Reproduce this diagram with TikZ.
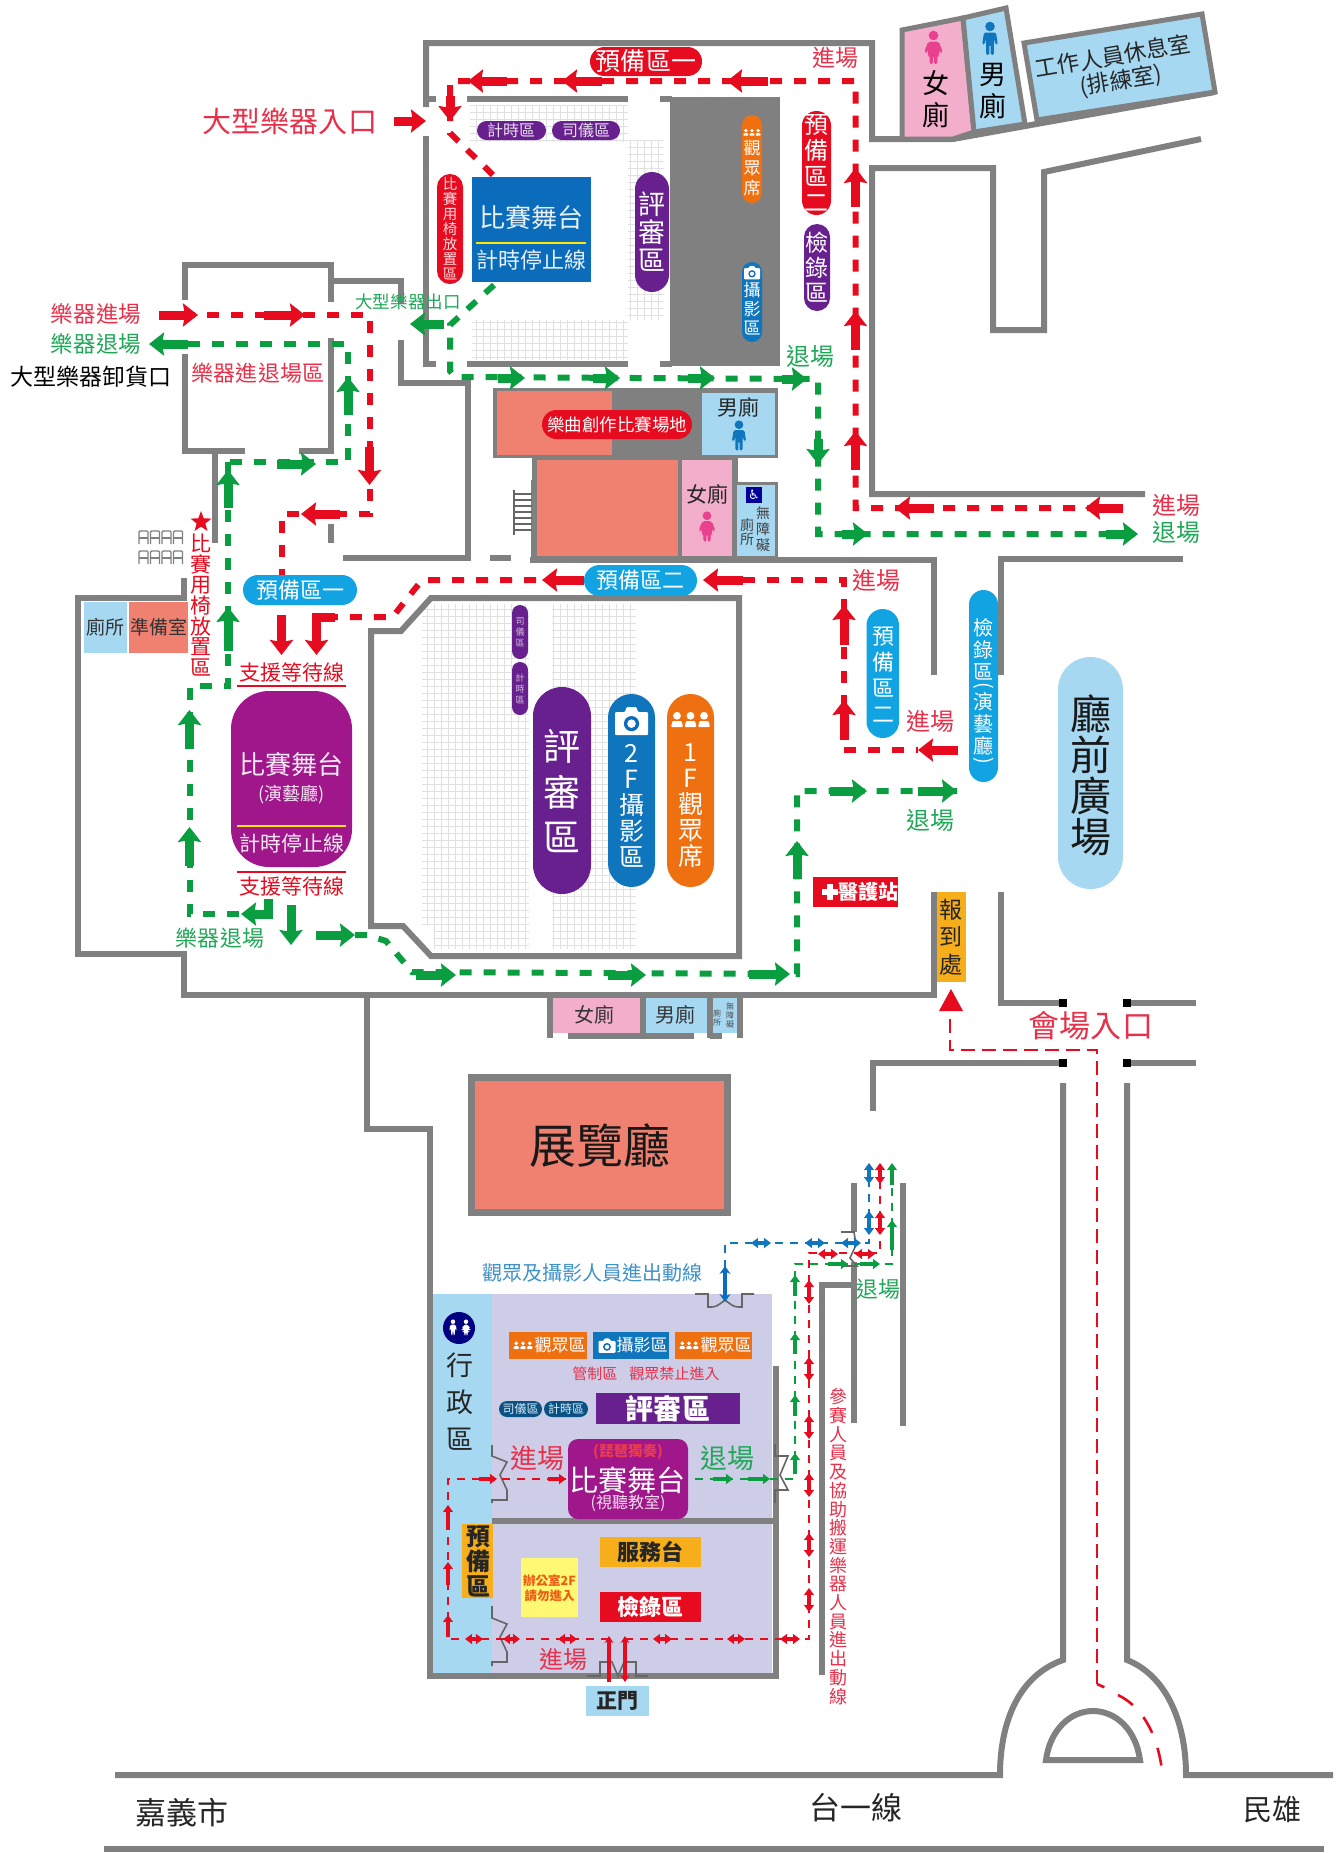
\documentclass[tikz,border=0pt]{standalone}
\usepackage{fontspec}
\setmainfont{Noto Sans CJK TC}
\newfontfamily\symf{DejaVu Sans}
\usetikzlibrary{arrows.meta,shapes.geometric}
\definecolor{wall}{HTML}{808080}
\definecolor{rd}{HTML}{E60B1E}
\definecolor{gn}{HTML}{0A9E40}
\definecolor{gt}{HTML}{20A858}
\definecolor{rt}{HTML}{E8304A}
\definecolor{bl}{HTML}{0A6CBA}
\definecolor{pu}{HTML}{67208E}
\definecolor{mg}{HTML}{A0178B}
\definecolor{og}{HTML}{EE7010}
\definecolor{cy}{HTML}{12A4E2}
\definecolor{lb}{HTML}{A6D8F2}
\definecolor{lv}{HTML}{CDCDE8}
\definecolor{pk}{HTML}{F3AECB}
\definecolor{sm}{HTML}{F08070}
\definecolor{am}{HTML}{F6AE1A}
\definecolor{hb}{HTML}{0F75BC}
\definecolor{hp}{HTML}{E9408F}
\newcounter{nn}
% text: x y size colour spacing text
\newcommand{\tx}[6]{\stepcounter{nn}\node[inner sep=0pt,text=#4,font=\fontsize{#3}{#3}\selectfont\addfontfeature{LetterSpace=#5}] (n\thenn) at (#1,#2) {#6};}
% vertical text: x y size linestep colour text
\newcommand{\vt}[6]{\stepcounter{nn}\node[inner sep=0pt,align=center,text=#5,font=\fontsize{#3}{#4}\selectfont] (n\thenn) at (#1,#2) {#6};}
% filled box
\newcommand{\bx}[5]{\fill[#5] (#1,#2) rectangle (#3,#4);}
\newcommand{\pill}[5]{\pgfmathsetmacro{\rr}{min(abs(#3-#1),abs(#4-#2))/2-0.01}\fill[#5,rounded corners=\rr pt] (#1,#2) rectangle (#3,#4);}
\newcommand{\rbx}[6]{\fill[#5,rounded corners=#6 pt] (#1,#2) rectangle (#3,#4);}
% block arrows
\newcommand{\arr}[5]{\draw[#1,line width=9pt,-{Stealth[length=15pt,width=23pt,inset=2pt]}] (#2,#3) -- (#4,#5);}
\newcommand{\sar}[5]{\draw[#1,line width=3.6pt,{Stealth[length=7pt,width=10pt,inset=0.5pt]}-{Stealth[length=7pt,width=10pt,inset=0.5pt]}] (#2,#3) -- (#4,#5);}
\newcommand{\uar}[5]{\draw[#1,line width=3.6pt,-{Stealth[length=7pt,width=10pt,inset=0.5pt]}] (#2,#3) -- (#4,#5);}
% pictograms
\newcommand{\man}[4]{\begin{scope}[shift={(#1,#2)},scale=#3]\fill[#4] (0,-9) circle (3.2);\fill[#4,rounded corners=1.5pt] (-4,-5) -- (4,-5) -- (5.2,3) -- (3.6,3) -- (2.6,-1) -- (2.6,10) -- (0.4,10) -- (0.4,3) -- (-0.4,3) -- (-0.4,10) -- (-2.6,10) -- (-2.6,-1) -- (-3.6,3) -- (-5.2,3) -- cycle;\end{scope}}
\newcommand{\wom}[4]{\begin{scope}[shift={(#1,#2)},scale=#3]\fill[#4] (0,-9) circle (3.2);\fill[#4,rounded corners=2pt] (-3.5,-5) -- (3.5,-5) -- (6.2,2) -- (4.6,3) -- (3.4,0) -- (4,4.5) -- (2.6,4.5) -- (2.6,10) -- (0.4,10) -- (0.4,4.5) -- (-0.4,4.5) -- (-0.4,10) -- (-2.6,10) -- (-2.6,4.5) -- (-4,4.5) -- (-3.4,0) -- (-4.6,3) -- (-6.2,2) -- cycle;\end{scope}}
\newcommand{\cam}[3]{\begin{scope}[shift={(#1,#2)},scale=#3]\fill[white,rounded corners=1pt] (-10,-6) -- (-4,-6) -- (-3,-9) -- (3,-9) -- (4,-6) -- (10,-6) -- (10,8) -- (-10,8) -- cycle;\fill[bl] (0,1) circle (4.6);\fill[white] (0,1) circle (2.6);\end{scope}}
\newcommand{\aud}[3]{\begin{scope}[shift={(#1,#2)},scale=#3]\foreach \q in {-9,0,9}{\fill[white] (\q,-3.5) circle (2.6);\fill[white,rounded corners=1pt] (\q-4,4) -- (\q-3,0) -- (\q+3,0) -- (\q+4,4) -- cycle;}\end{scope}}
\tikzset{
 wl/.style={draw=wall,line width=6pt,line cap=butt,line join=miter},
 door/.style={draw=wall!80!black,line width=1.6pt},
 rdash/.style={draw=rd,line width=6pt,dash pattern=on 12pt off 12pt},
 gdash/.style={draw=gn,line width=6pt,dash pattern=on 12pt off 12pt},
 rthin/.style={draw=rd,line width=2.6pt,dash pattern=on 8pt off 7pt},
 rlong/.style={draw=rd,line width=2.6pt,dash pattern=on 14pt off 7pt},
 rcurve/.style={draw=rd,line width=2.6pt,dash pattern=on 18pt off 16pt},
 gthin/.style={draw=gn,line width=2.6pt,dash pattern=on 8pt off 7pt},
 bthin/.style={draw=hb,line width=2.6pt,dash pattern=on 8pt off 7pt},
 seat/.style={draw=black!12,line width=1pt,step=7pt},
}
\begin{document}
\begin{tikzpicture}[x=1pt,y=-1pt]
\useasboundingbox (0,0) rectangle (1338,1853);
\fill[white] (0,0) rectangle (1338,1853);
%%% seats
\draw[seat] (470,105) grid (628,142);
\draw[seat] (472,320) grid (628,360);
\draw[seat] (628,140) grid (664,320);
\draw[seat] (422,604) grid (529,925);
\draw[seat] (434,925) grid (529,949);
\draw[seat] (552,604) grid (636,949);
%%% top hall walls
\draw[wl] (426,107) -- (426,43) -- (872,43) -- (872,139) -- (953,139) -- (1215,92);
\draw[wl] (426,99) -- (436,99);
\draw[wl] (426,136) -- (426,364) -- (436,364);
\draw[wl] (467,99) -- (628,99);
\draw[wl] (660,99) -- (672,99);
\draw[wl] (467,364) -- (628,364);
\draw[wl] (660,364) -- (672,364);
\bx{670}{97}{780}{366}{wall}
%%% restrooms top right
\fill[pk,draw=wall,line width=5pt] (902,30) -- (963,18) -- (974,132) -- (953,139) -- (902,139) -- cycle;
\fill[lb,draw=wall,line width=5pt] (963,18) -- (1006,8) -- (1025,124) -- (974,132) -- cycle;
\fill[lb,draw=wall,line width=5pt] (1024,43) -- (1202,14) -- (1215,92) -- (1037,120) -- cycle;
\draw[wl] (1201,139) -- (1044,172) -- (1044,330) -- (993,330) -- (993,168) -- (872,168) -- (872,494) -- (1145,494);
%%% middle block
\bx{612}{388}{778}{458}{wall}
\bx{493}{388}{612}{458}{wall}
\bx{497}{391}{612}{455}{sm}
\bx{702}{393}{775}{455}{lb}
\draw[wl] (534,480) -- (534,558);
\bx{532}{458}{738}{560}{wall}
\bx{537}{460}{678}{556}{sm}
\bx{682}{460}{732}{556}{pk}
\bx{732}{482}{778}{560}{wall}
\bx{737}{485}{775}{556}{lb}
\bx{738}{458}{778}{482}{white}
\draw[wl] (530,560) -- (933.5,560) -- (933.5,675);
\draw[wl] (490,558) -- (511,558);
\draw[wl] (1183,559) -- (1001,559) -- (1001,675);
% stairs
\draw[door] (514,490) -- (514,535);
\foreach \q in {494,500,...,534}{\draw[door] (514,\q) -- (532,\q);}
%%% left building
\draw[wl] (185,300) -- (185,265) -- (331,265) -- (331,302);
\draw[wl] (185,354) -- (185,451) -- (245,451);
\draw[wl] (299,451) -- (331,451) -- (331,338);
\draw[wl] (331,281) -- (401,281) -- (401,304);
\draw[wl] (401,340) -- (401,383) -- (468,383) -- (468,558) -- (343,558);
\draw[wl] (331,524) -- (331,543);
\draw[wl] (215,451) -- (215,543);
\draw[wl] (183.5,578) -- (183.5,598) -- (78,598) -- (78,954) -- (183.5,954) -- (183.5,995) -- (933.5,995) -- (933.5,892);
\draw[wl] (367,995) -- (367,1129) -- (430,1129) -- (430,1294);
%%% concert hall
\draw[wl] (371,926) -- (371,631) -- (401,631) -- (431,598) -- (739,598) -- (739,956) -- (431,956) -- (403,926) -- cycle;
%%% lower restrooms
\bx{553}{998}{640}{1033}{pk}
\bx{645}{998}{707}{1033}{lb}
\bx{712}{998}{737}{1033}{lb}
\draw[wl] (550,995) -- (550,1038);
\draw[wl] (642.5,995) -- (642.5,1036);
\draw[wl] (710,995) -- (710,1038);
\draw[wl] (740,995) -- (740,1038);
\draw[wl] (568,1036) -- (694,1036);
\draw[wl] (710,1036) -- (722,1036);
%%% exhibition hall
\fill[sm,draw=wall,line width=7pt] (471,1077) rectangle (727,1212);
%%% plaza
\draw[wl] (1001,892) -- (1001,1003) -- (1063,1003);
\draw[wl] (1127,1003) -- (1196,1003);
\draw[wl] (1127,1063) -- (1196,1063);
\draw[wl] (1063,1063) -- (873,1063) -- (873,1111);
\foreach \qx/\qy in {1063/1003,1127/1003,1063/1063,1127/1063}{\fill[black] (\qx-4,\qy-4) rectangle (\qx+4,\qy+4);}
%%% road
\draw[wl] (115,1775) -- (1000,1775) .. controls (1000,1720) and (1020,1675) .. (1063,1660) -- (1063,1083);
\draw[wl] (1127,1083) -- (1127,1660) .. controls (1165,1675) and (1186,1720) .. (1186,1775) -- (1333,1775);
\draw[wl] (1046,1760) .. controls (1050,1730) and (1070,1711) .. (1093,1711) .. controls (1116,1711) and (1136,1730) .. (1140,1760) -- cycle;
\draw[wl] (104,1849) -- (1324,1849);
%%% corridor
\draw[wl] (822,1675) -- (822,1285) -- (854,1285) -- (854,1423);
\draw[wl] (854,1183) -- (854,1232);
\draw[wl] (854,1262) -- (854,1285);
\draw[wl] (903,1183) -- (903,1426);
%%% admin building
\bx{430}{1294}{772}{1676}{lb}
\bx{492}{1294}{772}{1676}{lv}
\draw[wl] (430,1290) -- (430,1676) -- (776,1676) -- (776,1366);
\draw[wl] (492,1521) -- (776,1521);
% doors
\draw[door] (695,1294) -- (708,1294) -- (708,1307) .. controls (716,1307) .. (725,1300) .. controls (734,1307) .. (742,1307) -- (742,1294) -- (754,1294);
\draw[door] (587,1676) -- (600,1676) -- (600,1662) -- (612,1662) -- (618,1676) -- (624,1662) -- (636,1662) -- (636,1676) -- (648,1676);
\draw[door] (492,1445) -- (492,1456) -- (507,1462) -- (500,1475) -- (507,1490) -- (507,1500) -- (492,1500) -- (492,1503);
\draw[door] (492,1606) -- (492,1618) -- (507,1624) -- (500,1637) -- (507,1652) -- (507,1662) -- (492,1662) -- (492,1666);
\draw[door] (775,1444) -- (775,1456) -- (788,1456) -- (780,1475) -- (788,1490) -- (775,1490) -- (775,1503);
\draw[door] (841,1232) -- (854,1232) -- (856,1245) -- (850,1258) -- (857,1266) -- (841,1266);
%%% thin routes
\draw[rlong] (1097,1684) -- (1097,1050) -- (950,1050) -- (950,1012);
\draw[rthin] (1097,1684) -- (1106,1688);
\draw[rcurve] (1118,1695) .. controls (1145,1708) and (1160,1740) .. (1163,1780);
\fill[rd] (951,989) -- (963,1011) -- (939,1011) -- cycle;
\draw[bthin] (725,1298) -- (725,1243) -- (869,1243) -- (869,1172);
\draw[rthin] (609,1639) -- (448,1639) -- (448,1479) -- (566,1479);
\draw[rthin] (625,1639) -- (809,1639) -- (809,1253) -- (880,1253) -- (880,1172);
\draw[gthin] (695,1479) -- (795,1479) -- (795,1264) -- (892,1264) -- (892,1172);
\draw[bl,line width=4pt,{Stealth[length=8pt,width=11pt]}-{Stealth[length=8pt,width=11pt]}] (725,1302) -- (725,1266);
\sar{hb}{751}{1243}{771}{1243}
\sar{hb}{805}{1243}{825}{1243}
\sar{hb}{841}{1243}{861}{1243}
\sar{hb}{869}{1235}{869}{1211}
\sar{hb}{869}{1184}{869}{1163}
\sar{rd}{880}{1235}{880}{1211}
\sar{rd}{880}{1184}{880}{1163}
\uar{gn}{892}{1250}{892}{1220}
\uar{gn}{892}{1185}{892}{1163}
\sar{rd}{818}{1254}{838}{1254}
\sar{rd}{855}{1254}{875}{1254}
\uar{gn}{828}{1264}{848}{1264}
\uar{gn}{860}{1264}{880}{1264}
\foreach \q in {1292,1369,1427,1485,1545,1600}{\sar{rd}{809}{\q+12}{809}{\q-12}}
\uar{gn}{795}{1296}{795}{1275}
\uar{gn}{795}{1354}{795}{1333}
\uar{gn}{795}{1416}{795}{1395}
\uar{gn}{795}{1474}{795}{1453}
\uar{gn}{713}{1479}{733}{1479}
\uar{gn}{748}{1479}{770}{1479}
\uar{rd}{479}{1479}{497}{1479}
\uar{rd}{548}{1479}{566}{1479}
\uar{rd}{448}{1530}{448}{1505}
\uar{rd}{448}{1585}{448}{1562}
\uar{rd}{448}{1637}{448}{1615}
\sar{rd}{465}{1639}{483}{1639}
\sar{rd}{503}{1639}{520}{1639}
\sar{rd}{558}{1639}{577}{1639}
\sar{rd}{653}{1639}{672}{1639}
\sar{rd}{727}{1639}{745}{1639}
\sar{rd}{780}{1639}{800}{1639}
\draw[rd,line width=3.5pt,-{Stealth[length=7pt,width=9pt]}] (609,1682) -- (609,1636);
\draw[rd,line width=3.5pt,{Stealth[length=7pt,width=9pt]}-{Stealth[length=7pt,width=9pt]}] (625,1682) -- (625,1636);
%%% main dashes
\draw[rdash] (1123,508) -- (855.5,508) -- (855.5,81) -- (450,81) -- (450,133) -- (494,176);
\draw[gdash] (494,285) -- (450,325) -- (450,371) -- (455,377) -- (818,379) -- (818,534) -- (1137,534);
\draw[rdash] (159,315) -- (369.5,315) -- (369.5,514) -- (281.5,514) -- (281.5,609);
\draw[gdash] (188,344) -- (348,344) -- (348,462) -- (230,462);
\draw[gdash] (228,462) -- (228,686) -- (189.5,686) -- (189.5,914) -- (243,914);
\draw[rdash] (584,580) -- (422,580) -- (392.5,617) -- (335,617);
\draw[rdash] (743,580) -- (844,580) -- (844,740);
\draw[rdash] (844,750) -- (918,750);
\draw[gdash] (355,935) -- (367,935) -- (386,941) -- (412,972) -- (797,974) -- (797,791) -- (957,791);
%%% main arrows
\arr{rd}{1123}{508}{1085}{508}
\arr{rd}{934}{508}{895}{508}
\arr{rd}{855.5}{470}{855.5}{431}
\arr{rd}{855.5}{350}{855.5}{311}
\arr{rd}{855.5}{207}{855.5}{168}
\arr{rd}{768}{81}{727}{81}
\arr{rd}{602}{81}{562}{81}
\arr{rd}{507}{81}{468}{81}
\arr{rd}{450}{96}{450}{121}
\arr{rd}{394}{121}{426}{121}
\arr{gn}{498}{378}{525}{378}
\arr{gn}{593}{378}{620}{378}
\arr{gn}{688}{378}{715}{378}
\arr{gn}{782}{379}{807}{379}
\arr{gn}{444}{324}{410}{324}
\arr{gn}{818}{439}{818}{464}
\arr{gn}{842}{534}{868}{534}
\arr{gn}{1106}{534}{1138}{534}
\arr{rd}{159}{315}{198}{315}
\arr{rd}{264}{315}{305}{315}
\arr{rd}{369.5}{447}{369.5}{485}
\arr{rd}{340}{514}{301}{514}
\arr{rd}{281.5}{615}{281.5}{655}
\draw[rd,line width=9pt,-{Stealth[length=15pt,width=23pt,inset=2pt]}] (335,617) -- (316.5,617) -- (316.5,655);
\arr{rd}{584}{580}{542}{580}
\arr{rd}{743}{580}{703}{580}
\arr{rd}{844}{645}{844}{605}
\arr{rd}{844}{740}{844}{700}
\arr{rd}{958}{750}{918}{750}
\arr{gn}{188}{344}{149}{344}
\arr{gn}{348}{415}{348}{377}
\arr{gn}{277}{464}{316}{464}
\arr{gn}{228}{508}{228}{470}
\arr{gn}{228}{651}{228}{607}
\arr{gn}{189.5}{749}{189.5}{710}
\arr{gn}{189.5}{866}{189.5}{827}
\draw[gn,line width=9pt,-{Stealth[length=15pt,width=23pt,inset=2pt]}] (268,899) -- (268,914) -- (241,914);
\arr{gn}{291}{905}{291}{945}
\arr{gn}{316}{935}{355}{935}
\arr{gn}{416}{975}{456}{975}
\arr{gn}{608}{975}{646}{975}
\arr{gn}{749}{974}{790}{974}
\arr{gn}{797}{879}{797}{841}
\arr{gn}{830}{791}{867}{791}
\arr{gn}{918}{791}{957}{791}
%%% top hall labels
\pill{590}{47}{702}{76}{rd}
\tx{646}{61}{25}{white}{0.16}{預備區一}
\pill{477}{121}{546}{140}{pu}\tx{511}{130}{16}{white!85!pu}{0}{計時區}
\pill{552}{121}{620}{140}{pu}\tx{586}{130}{16}{white!85!pu}{0}{司儀區}
\pill{437}{174}{463}{284}{rd}
\vt{450}{229}{14.5}{15}{white!85!rd}{比\\賽\\用\\椅\\放\\置\\區}
\bx{472}{177}{591}{282}{bl}
\draw[yellow!90!orange,line width=2.5pt] (476,243) -- (586,243);
\tx{531.5}{218}{26}{white!90!bl}{0}{比賽舞台}
\tx{531.5}{260}{22}{white!90!bl}{0}{計時停止線}
\pill{635}{172}{669}{292}{pu}
\vt{652}{232}{27}{28}{white}{評\\審\\區}
\pill{742}{115}{762}{203}{og}
\aud{752}{133}{0.68}
\vt{752}{168}{17}{20}{white}{觀\\眾\\席}
\pill{742}{262}{762}{342}{hb}
\cam{752}{273}{0.8}
\vt{752}{309}{17}{19}{white}{攝\\影\\區}
\pill{802}{111}{831}{215}{rd}
\vt{816.5}{163}{24}{26}{white}{預\\備\\區\\二}
\pill{804}{224}{830}{311}{pu}
\vt{817}{267}{23}{25}{white}{檢\\錄\\區}
\tx{835}{58}{23}{rt}{0}{進場}
\tx{810}{356}{24}{gt}{0}{退場}
\tx{1176}{505}{24}{rt}{0}{進場}
\tx{1176}{532}{24}{gt}{0}{退場}
%%% top-right rooms
\wom{933.5}{49}{1.5}{hp}
\vt{935.5}{99}{27}{32}{black}{女\\廁}
\man{990}{40}{1.5}{hb}
\vt{993}{91}{27}{32}{black}{男\\廁}
\node[inner sep=0pt,rotate=9.5,font=\fontsize{22.5}{22.5}\selectfont,text=black!85] (staffa) at (1113,56) {工作人員休息室};
\node[inner sep=0pt,rotate=9.5,font=\fontsize{22.5}{22.5}\selectfont,text=black!85] (staffb) at (1121,81) {(排練室)};
%%% middle labels
\pill{542}{410}{692}{439}{rd}\tx{617}{424.5}{17.5}{white}{0}{樂曲創作比賽場地}
\tx{738}{407}{21}{black!85}{0}{男廁}
\man{739}{437}{1.36}{hb}
\tx{707}{494}{21}{black!85}{0}{女廁}
\wom{707}{528}{1.36}{hp}
\bx{746}{487}{762}{503}{blue!60!black}
\node[inner sep=0pt,font=\symf\fontsize{13}{13}\selectfont,text=white] (accs) at (754,495) {♿};
\vt{763}{529}{14}{16}{black!75}{無\\障\\礙}
\vt{747}{532}{14}{14}{black!75}{廁\\所}
\pill{584}{565}{697}{596}{cy}
\tx{640.5}{580.5}{22}{white}{0}{預備區二}
\pill{243}{575}{357}{605}{cy}
\tx{300}{590}{22}{white}{0}{預備區一}
\tx{876}{580}{24}{rt}{0}{進場}
%%% left labels
\tx{290}{121}{29}{rt}{0.05}{大型樂器入口}
\tx{96}{314}{22.5}{rt}{0.06}{樂器進場}
\tx{96}{344}{22.5}{gt}{0.06}{樂器退場}
\tx{91}{377}{23}{black}{0.07}{大型樂器卸貨口}
\tx{258}{373}{22}{rt}{0.07}{樂器進退場區}
\tx{408}{302}{17.5}{gt}{0.04}{大型樂器出口}
% star and vertical
\node[star,star points=5,star point ratio=2.4,fill=rd,inner sep=0pt,minimum size=22pt] (starn) at (201,522) {};
\vt{200.5}{605}{21}{20.7}{rd}{比\\賽\\用\\椅\\放\\置\\區}
% chairs
\foreach \qy in {531,551}{\foreach \qx in {139,150.5,162,173.5}{
 \draw[wall,line width=1.4pt,rounded corners=1pt] (\qx,\qy+13) -- (\qx,\qy) -- (\qx+9,\qy) -- (\qx+9,\qy+13);
 \draw[wall,line width=1.4pt] (\qx,\qy+7) -- (\qx+9,\qy+7);}}
\bx{84}{602}{127}{653}{lb}
\tx{105.5}{627}{19}{black!80}{0}{廁所}
\bx{129}{602}{188}{653}{sm}
\tx{158.5}{627}{19}{black!80}{0}{準備室}
% purple stage
\rbx{231}{691}{352}{867}{mg}{38}
\draw[yellow!90!orange,line width=2.5pt] (237,826) -- (346,826);
\tx{291.5}{765}{26}{white!90!mg}{0.02}{比賽舞台}
\tx{291.5}{795}{18}{white!90!mg}{0}{(演藝廳)}
\tx{291.5}{843}{21}{white!90!mg}{0}{計時停止線}
\tx{292}{672}{21}{rd}{0}{支援等待線}
\draw[rd,line width=1.5pt] (237,686) -- (346,686);
\draw[rd,line width=1.5pt] (237,872) -- (346,872);
\tx{292}{886}{21}{rd}{0}{支援等待線}
\tx{220}{938}{22}{gt}{0.06}{樂器退場}
%%% concert hall pills
\pill{512}{605}{528}{659}{pu}\vt{520}{632}{9}{11}{white!70!pu}{司\\儀\\區}
\pill{512}{662}{528}{715}{pu}\vt{520}{689}{9}{11}{white!70!pu}{計\\時\\區}
\pill{533}{687}{591}{894}{pu}
\vt{562}{791}{37}{45.5}{white}{評\\審\\區}
\pill{608}{694}{655}{887}{hb}
\cam{631.5}{722}{1.65}
\vt{631.5}{806}{25}{26}{white}{2\\F\\攝\\影\\區}
\pill{667}{694}{714}{887}{og}
\aud{690.5}{721}{1.5}
\vt{690.5}{806}{25}{26}{white}{1\\F\\觀\\眾\\席}
%%% right labels
\pill{866.5}{609}{899}{738}{cy}
\vt{883}{674.5}{22}{26}{white}{預\\備\\區\\二}
\pill{969}{590}{998}{782}{cy}
\vt{983.5}{649}{20}{22}{white}{檢\\錄\\區}
\node[inner sep=0pt,rotate=-90,text=white,font=\fontsize{20}{20}\selectfont] (parl) at (983.5,686) {(};
\vt{983.5}{724}{20}{22}{white}{演\\藝\\廳}
\node[inner sep=0pt,rotate=-90,text=white,font=\fontsize{20}{20}\selectfont] (parr) at (983.5,761) {)};
\tx{930}{721}{24}{rt}{0}{進場}
\tx{930}{820}{24}{gt}{0}{退場}
\pill{1058}{657}{1123}{889}{lb}
\vt{1090.5}{775}{41}{41}{black!90}{廳\\前\\廣\\場}
\bx{813}{877}{898}{907}{rd}
\fill[white] (822,889) rectangle (838,895);\fill[white] (827,884) rectangle (833,900);
\tx{868}{892}{20}{white}{0}{\bfseries 醫護站}
\bx{936.5}{892}{966}{982}{am}
\vt{951}{937}{23}{27.5}{black!85}{報\\到\\處}
\tx{1091}{1026}{31}{rt}{0.04}{會場入口}
%%% lower restroom text
\tx{594}{1015}{20}{black!80}{0}{女廁}
\tx{675}{1015}{20}{black!80}{0}{男廁}
\vt{717}{1018}{8}{9}{black!70}{廁\\所}
\vt{730}{1015}{8}{9}{black!70}{無\\障\\礙}
\tx{600}{1145}{47}{black!90}{0.02}{展覽廳}
%%% admin labels
\tx{592}{1273}{20}{hb!80!white}{0}{觀眾及攝影人員進出動線}
\fill[blue!50!black] (459,1328) circle (16);
\man{453}{1328}{0.7}{white}
\wom{466}{1328}{0.7}{white}
\vt{460}{1402}{27}{37}{black!85}{行\\政\\區}
\bx{509}{1332}{587}{1359}{og}\aud{523}{1346}{0.75}\tx{560}{1345.5}{17}{white}{0}{觀眾區}
\bx{593}{1332}{669}{1359}{hb}\cam{607}{1346}{0.85}\tx{642}{1345.5}{17}{white}{0}{攝影區}
\bx{675}{1332}{752}{1359}{og}\aud{689}{1346}{0.75}\tx{726}{1345.5}{17}{white}{0}{觀眾區}
\tx{646}{1374}{15}{rt}{0.1}{管制區\hspace{12pt}觀眾禁止進入}
\pill{499}{1401}{542}{1417}{hb!70!black}\tx{520.5}{1409}{12}{white!85!hb}{0}{司儀區}
\pill{544}{1401}{588}{1417}{hb!70!black}\tx{566}{1409}{12}{white!85!hb}{0}{計時區}
\bx{596}{1393}{740}{1424}{pu}
\tx{668}{1408.5}{28}{white}{0.15}{\bfseries 評審區}
\tx{537}{1458}{27}{rt}{0}{進場}
\tx{727}{1458}{27}{gt}{0}{退場}
\rbx{568}{1439}{688}{1519}{mg}{10}
\tx{628}{1452}{14.5}{rd!80!white}{0}{\bfseries (琵琶獨奏)}
\tx{628}{1480}{29}{white}{0.02}{比賽舞台}
\tx{628}{1503}{16}{white!85!mg}{0}{(視聽教室)}
\bx{462}{1524}{493}{1598}{am}
\vt{478}{1561}{24}{25}{black!85}{\bfseries 預\\\bfseries 備\\\bfseries 區}
\bx{600}{1537}{701}{1567}{am}
\tx{650.5}{1552}{22}{black!85}{0.05}{\bfseries 服務台}
\bx{600}{1592}{701}{1622}{rd}
\tx{650.5}{1607}{22}{white}{0.05}{\bfseries 檢錄區}
\bx{521}{1558}{578}{1617}{yellow!55!white}
\vt{549.5}{1588}{12.5}{15}{og!80!rd}{\bfseries 辦公室2F\\\bfseries 請勿進入}
\tx{563}{1659}{24}{rt}{0}{進場}
\bx{586}{1686}{649}{1716}{lb}
\tx{617.5}{1701}{21}{black!85}{0.04}{\bfseries 正門}
\tx{878}{1289}{22}{gt}{0}{退場}
\vt{838}{1546.5}{18}{18.7}{rt}{參\\賽\\人\\員\\及\\協\\助\\搬\\運\\樂\\器\\人\\員\\進\\出\\動\\線}
%%% road labels
\tx{182}{1813}{31}{black!85}{0}{嘉義市}
\tx{856}{1808}{31}{black!85}{0.04}{台一線}
\tx{1272}{1810}{29}{black!85}{0}{民雄}
\end{tikzpicture}
\end{document}
